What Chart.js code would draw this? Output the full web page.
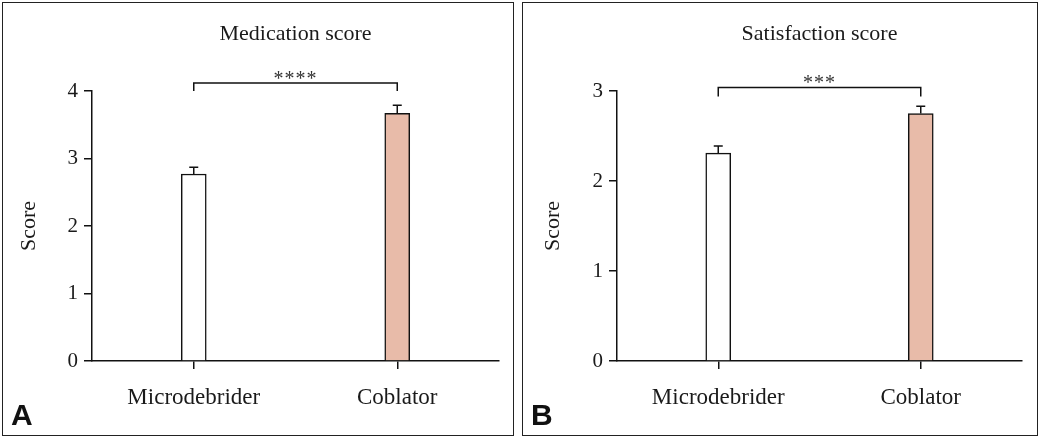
<!DOCTYPE html>
<html>
<head>
<meta charset="utf-8">
<script src="https://cdn.jsdelivr.net/npm/chart.js@4"></script>
<style>
  body { margin: 0; background: #fff; width: 1040px; height: 437px; position: relative; overflow: hidden; }
  .panel { position: absolute; top: 2px; border: 1px solid #222; box-sizing: border-box; height: 434px; }
  .panel canvas { position: absolute; left: 0; top: 0; }
  .tag { position: absolute; font-family: "Liberation Sans", Arial, sans-serif; font-weight: bold; font-size: 30px; color: #111; }
</style>
</head>
<body>
<div class="panel" id="panelA" style="left:2px; width:512px;"><canvas id="chartA"></canvas></div>
<div class="panel" id="panelB" style="left:522px; width:516px;"><canvas id="chartB"></canvas></div>
<div class="tag" style="left:11px; top:398px;">A</div>
<div class="tag" style="left:531px; top:398px;">B</div>
<script>
const groups = ['Microdebrider', 'Coblator'];
const medicationScore = [2.77, 3.67];
const medicationErr = [0.10, 0.12];
const satisfactionScore = [2.31, 2.75];
const satisfactionErr = [0.08, 0.08];
const medicationTicks = [0, 1, 2, 3, 4];
const satisfactionTicks = [0, 1, 2, 3];

const barColors = ['#ffffff', '#e8bba9'];
const serif = '"Liberation Serif", "Times New Roman", serif';
const ink = '#1a1a1a';

// error bars + significance bracket, drawn from the scales
const extras = {
    id: 'extras',
    afterDatasetsDraw(chart, args, opts) {
        const ctx = chart.ctx;
        const x = chart.scales.x, y = chart.scales.y;
        ctx.save();
        ctx.strokeStyle = '#111';
        ctx.lineWidth = 1.5;
        opts.values.forEach((v, i) => {
            const px = x.getPixelForValue(i);
            const top = y.getPixelForValue(v + opts.errors[i]);
            const base = y.getPixelForValue(v);
            ctx.beginPath();
            ctx.moveTo(px, base);
            ctx.lineTo(px, top);
            ctx.moveTo(px - 4.5, top);
            ctx.lineTo(px + 4.5, top);
            ctx.stroke();
        });
        const x1 = x.getPixelForValue(0), x2 = x.getPixelForValue(1);
        const yb = y.getPixelForValue(opts.bracket[0]);
        const yd = y.getPixelForValue(opts.bracket[1]);
        ctx.beginPath();
        ctx.moveTo(x1, yd);
        ctx.lineTo(x1, yb);
        ctx.lineTo(x2, yb);
        ctx.lineTo(x2, yd);
        ctx.stroke();
        ctx.fillStyle = '#333';
        ctx.font = '20px ' + serif;
        ctx.textAlign = 'center';
        ctx.textBaseline = 'alphabetic';
        ctx.letterSpacing = '1px';
        ctx.fillText(opts.stars, (x1 + x2) / 2, yb + 2);
        ctx.restore();
    }
};

function makeChart(id, w, title, values, errors, ticks, bracket, stars, yWidth, yTitlePad, rightPad) {
    const canvas = document.getElementById(id);
    canvas.width = w;
    canvas.height = 432;
    canvas.style.width = w + 'px';
    canvas.style.height = '432px';
    return new Chart(canvas, {
        type: 'bar',
        data: {
            labels: groups,
            datasets: [{
                data: values,
                backgroundColor: barColors,
                borderColor: '#111',
                borderWidth: 1.5,
                borderSkipped: 'bottom',
                barThickness: 25
            }]
        },
        options: {
            responsive: false,
            animation: false,
            devicePixelRatio: 1,
            layout: { padding: { left: 0, right: rightPad, top: 18, bottom: 0 } },
            plugins: {
                legend: { display: false },
                tooltip: { enabled: false },
                title: {
                    display: true,
                    fullSize: false,
                    text: title,
                    color: ink,
                    font: { family: serif, size: 22, weight: 'normal' },
                    padding: { top: 0, bottom: 43.6 }
                },
                extras: { values: values, errors: errors, bracket: bracket, stars: stars }
            },
            scales: {
                x: {
                    offset: true,
                    border: { color: '#111', width: 1.5 },
                    grid: { display: true, drawOnChartArea: false, tickLength: 8, color: '#111', lineWidth: 1.5, offset: false },
                    ticks: { color: ink, padding: 15, font: { family: serif, size: 23 } },
                    afterFit(scale) { scale.height = 74; }
                },
                y: {
                    min: 0,
                    max: ticks[ticks.length - 1],
                    afterBuildTicks(scale) { scale.ticks = ticks.map(v => ({ value: v })); },
                    border: { color: '#111', width: 1.5 },
                    grid: { drawOnChartArea: false, tickLength: 8, color: '#111', lineWidth: 1.5 },
                    ticks: { color: ink, padding: 6, font: { family: serif, size: 21 } },
                    title: {
                        display: true,
                        text: 'Score',
                        color: ink,
                        font: { family: serif, size: 22 },
                        padding: { top: yTitlePad, bottom: 0 }
                    },
                    afterFit(scale) { scale.width = yWidth; }
                }
            }
        },
        plugins: [extras]
    });
}

makeChart('chartA', 510, 'Medication score', medicationScore, medicationErr, medicationTicks,
    [4.12, 4.0], '****', 89, 13, 14);
makeChart('chartB', 514, 'Satisfaction score', satisfactionScore, satisfactionErr, satisfactionTicks,
    [3.04, 2.94], '***', 94, 17, 15);
</script>
</body>
</html>
